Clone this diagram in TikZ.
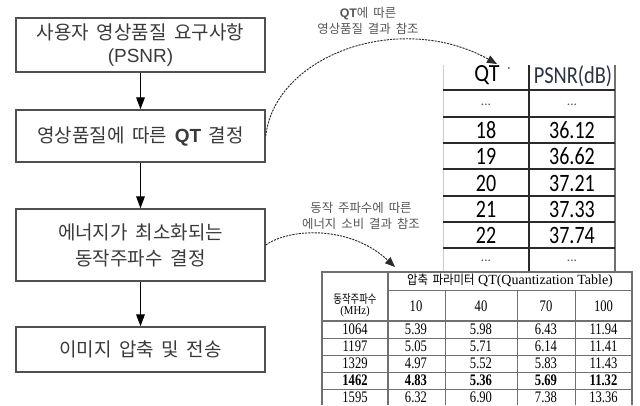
\documentclass[tikz,border=0pt]{standalone}
\usepackage{fontspec}
\usepackage{graphicx}
\setmainfont{Liberation Sans}
\newfontfamily\krfont[WordSpace=1.8]{Noto Sans CJK KR}
\newfontfamily\calfont{Carlito}
\newfontfamily\serfont{Liberation Serif}
\usetikzlibrary{arrows.meta}
\definecolor{boxline}{HTML}{505050}
\definecolor{boxtext}{HTML}{3A3A3A}
\definecolor{lbltext}{HTML}{555555}
\definecolor{tlight}{HTML}{C5CCDA}
\definecolor{tdark}{HTML}{2A2A2A}
\definecolor{tgray}{HTML}{707070}
\definecolor{dotcol}{HTML}{4A5570}
\tikzset{
  flowbox/.style={draw=boxline, line width=1.1pt, fill=white, inner sep=0pt, align=center,
    text=boxtext, minimum width=186.75pt, font=\krfont\fontsize{14.25}{18}\selectfont},
  flowarrow/.style={draw=black, line width=0.9pt, -{Triangle[length=9pt,width=6.5pt]}},
  refarrow/.style={draw=tdark, line width=0.7pt, dash pattern=on 1.6pt off 0.8pt,
    -{Triangle[length=7.5pt,width=6pt]}},
  reflabel/.style={align=center, text=lbltext, inner sep=0pt, font=\krfont\fontsize{9.3}{12}\selectfont},
  tonecell/.style={inner sep=0pt, text=black, font=\calfont\fontsize{15}{15}\selectfont},
  tdots/.style={inner sep=0pt, text=dotcol, font=\calfont\fontsize{10}{10}\selectfont},
  ttwocell/.style={inner sep=0pt, text=black, font=\serfont\fontsize{10.5}{10.5}\selectfont},
  hline/.style={draw=tdark, line width=1.1pt},
  gline/.style={draw=tgray, line width=0.75pt},
}
\begin{document}
\begin{tikzpicture}[x=0.75pt,y=-0.75pt]
\useasboundingbox (0,0) rectangle (640,405);
\fill[white] (0,0) rectangle (640,405);

% ---------- flow boxes ----------
\node[flowbox, minimum height=40.5pt] (b1) at (140.5,45)
  {사용자 영상품질 요구사항\\[-1pt]{\rmfamily\fontsize{14.25}{18}\selectfont (PSNR)}};
\node[flowbox, minimum height=39pt] (b2) at (140.5,136)
  {영상품질에 따른 {\rmfamily\bfseries\fontsize{14.25}{18}\selectfont QT} 결정};
\node[flowbox, minimum height=54pt, font=\krfont\fontsize{14.25}{19.5}\selectfont] (b3) at (140.5,245)
  {에너지가 최소화되는\\동작주파수 결정};
\node[flowbox, minimum height=33.75pt] (b4) at (140.5,349.5)
  {이미지 압축 및 전송};

\draw[flowarrow] (b1.south) -- (b2.north);
\draw[flowarrow] (b2.south) -- (b3.north);
\draw[flowarrow] (b3.south) -- (b4.north);

% ---------- table 1 (QT / PSNR) ----------
\draw[draw=tlight, line width=0.6pt] (443,65) -- (443,272);
\draw[draw=tdark, line width=1.0pt] (529,65) -- (529,272);
\draw[draw=tgray, line width=0.8pt] (615,65) -- (615,272);
\foreach \yy in {90,117,143,169,196,222,248}
  \draw[hline] (443,\yy) -- (615,\yy);

\node[tonecell, font=\calfont\fontsize{16.5}{16.5}\selectfont] (qth) at (487,75.5) {\scalebox{1}[1.12]{QT}};
\node[inner sep=0pt, font=\calfont\fontsize{8}{8}\selectfont] (qtdot) at (509,70) {·};
\node[tonecell, text=dotcol!60!black] (psh) at (573,76) {\scalebox{1.02}[1.22]{PSNR(dB)}};
\node[tdots] (d1a) at (486,105) {...};
\node[tdots] (d1b) at (572,105) {...};
\foreach \q/\p/\yy [count=\i] in {18/36.12/130, 19/36.62/156.5, 20/37.21/183, 21/37.33/209, 22/37.74/235.5}{
  \node[tonecell] (q\i) at (486,\yy) {\scalebox{1}[1.25]{\q}};
  \node[tonecell] (p\i) at (572,\yy) {\scalebox{1}[1.25]{\p}};
}
\node[tdots] (d2a) at (486,261) {...};
\node[tdots] (d2b) at (572,261) {...};

% ---------- table 2 (energy) ----------
\fill[white] (322,272) rectangle (640,405);
\draw[gline, line width=0.9pt] (322,405) -- (322,272) -- (632,272) -- (632,405);
\draw[draw=tgray, line width=1.6pt] (388,272) -- (388,405);
\foreach \xx in {445,517,575}
  \draw[gline] (\xx,290) -- (\xx,405);
\draw[gline] (388,290) -- (632,290);
\draw[draw=tgray, line width=1.5pt] (322,321) -- (632,321);
\foreach \yy in {338,355,372,389}
  \draw[gline] (322,\yy) -- (632,\yy);

\node[ttwocell] (qhead) at (510,281)
  {{\krfont\fontsize{9.5}{10}\selectfont\scalebox{0.9}[1]{압축 파라미터}} QT(Quantization Table)};
\node[inner sep=0pt, align=center, font=\fontsize{9}{9.5}\selectfont] (fhead) at (355,305)
  {{\krfont\fontsize{9}{9.5}\selectfont\scalebox{0.78}[1]{동작주파수}}\\[-1pt]{\serfont\scalebox{0.9}[1]{(MHz)}}};
\node[ttwocell] (c10) at (416,306) {\scalebox{0.9}[1.15]{10}};
\node[ttwocell] (c40) at (481,306) {\scalebox{0.9}[1.15]{40}};
\node[ttwocell] (c70) at (546,306) {\scalebox{0.9}[1.15]{70}};
\node[ttwocell] (c100) at (603.5,306) {\scalebox{0.9}[1.15]{100}};

\foreach \f/\a/\b/\c/\d/\yy [count=\i] in {
  1064/5.39/5.98/6.43/11.94/329.5,
  1197/5.05/5.71/6.14/11.41/346.5,
  1329/4.97/5.52/5.83/11.43/363.5}{
  \node[ttwocell] (f\i) at (355,\yy) {\scalebox{0.9}[1.15]{\f}};
  \node[ttwocell] (a\i) at (416,\yy) {\scalebox{0.9}[1.15]{\a}};
  \node[ttwocell] (bb\i) at (481,\yy) {\scalebox{0.9}[1.15]{\b}};
  \node[ttwocell] (cc\i) at (546,\yy) {\scalebox{0.9}[1.15]{\c}};
  \node[ttwocell] (dd\i) at (603.5,\yy) {\scalebox{0.9}[1.15]{\d}};
}
\node[ttwocell, font=\serfont\bfseries\fontsize{10.5}{10.5}\selectfont] (f4) at (355,380.5) {\scalebox{0.9}[1.15]{1462}};
\node[ttwocell, font=\serfont\bfseries\fontsize{10.5}{10.5}\selectfont] (a4) at (416,380.5) {\scalebox{0.9}[1.15]{4.83}};
\node[ttwocell, font=\serfont\bfseries\fontsize{10.5}{10.5}\selectfont] (bb4) at (481,380.5) {\scalebox{0.9}[1.15]{5.36}};
\node[ttwocell, font=\serfont\bfseries\fontsize{10.5}{10.5}\selectfont] (cc4) at (546,380.5) {\scalebox{0.9}[1.15]{5.69}};
\node[ttwocell, font=\serfont\bfseries\fontsize{10.5}{10.5}\selectfont] (dd4) at (603.5,380.5) {\scalebox{0.9}[1.15]{11.32}};
\node[ttwocell] (f5) at (355,397.5) {\scalebox{0.9}[1.15]{1595}};
\node[ttwocell] (a5) at (416,397.5) {\scalebox{0.9}[1.15]{6.32}};
\node[ttwocell] (bb5) at (481,397.5) {\scalebox{0.9}[1.15]{6.90}};
\node[ttwocell] (cc5) at (546,397.5) {\scalebox{0.9}[1.15]{7.38}};
\node[ttwocell] (dd5) at (603.5,397.5) {\scalebox{0.9}[1.15]{13.36}};

% ---------- reference arrows and labels ----------
\coordinate (t1tip) at (497,64);
\coordinate (t2tip) at (395,267);
\draw[refarrow] (b2.east) .. controls (275,55) and (400,10) .. (t1tip);
\draw[refarrow] (b3.east) .. controls (290,228) and (350,225) .. (t2tip);

\node[reflabel] (lab1) at (368,21)
  {{\rmfamily\bfseries\fontsize{9.3}{12}\selectfont QT}에 따른\\영상품질 결과 참조};
\node[reflabel] (lab2) at (361,216)
  {동작 주파수에 따른\\에너지 소비 결과 참조};
\end{tikzpicture}
\end{document}
